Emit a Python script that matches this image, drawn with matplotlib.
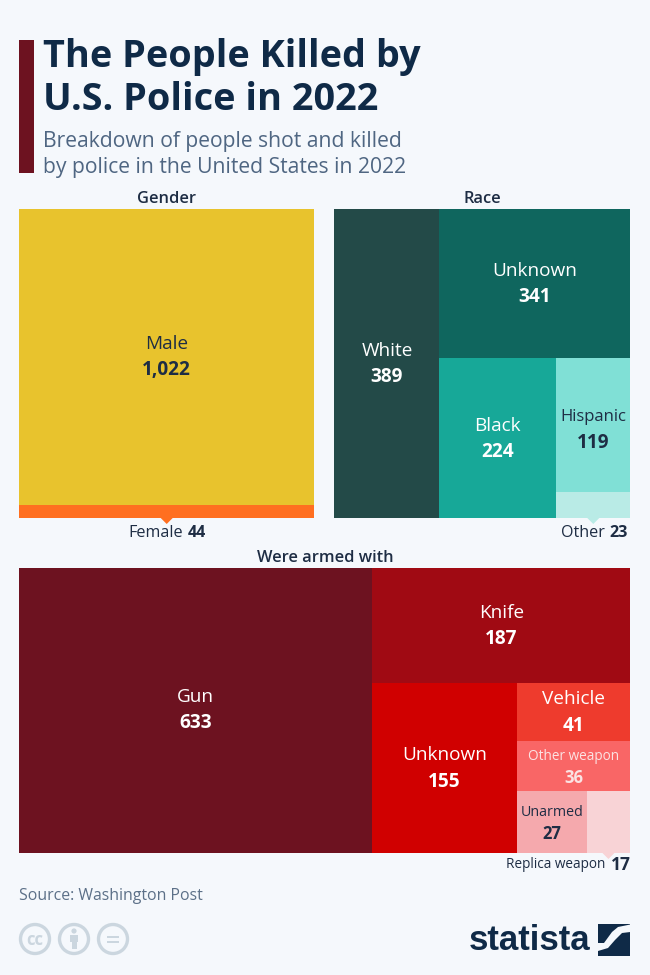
import matplotlib
matplotlib.use("Agg")
import matplotlib.pyplot as plt
from matplotlib import font_manager as fm
from matplotlib.patches import Rectangle, Polygon, Circle

plt.rcParams['font.family'] = ['Open Sans', 'DejaVu Sans']

# ---- data ----
gender_labels = ["Male", "Female"]
gender_values = [1022, 44]
race_labels = ["White", "Unknown", "Black", "Hispanic", "Other"]
race_values = [389, 341, 224, 119, 23]
armed_labels = ["Gun", "Knife", "Unknown", "Vehicle", "Other weapon", "Unarmed", "Replica weapon"]
armed_values = [633, 187, 155, 41, 36, 27, 17]

gender_colors = ["#E8C32D", "#FF6F20"]
race_colors = ["#234A48", "#0F665E", "#17A898", "#80E0D6", "#B9EBE6"]
armed_colors = ["#6D1220", "#A00A13", "#D00000", "#EE3B2D", "#F96666", "#F5A9AD", "#F8D3D6"]

BG = "#F5F8FC"
NAVY = "#0F2A47"
DARK = "#1E2D44"


def sv(v):
    return sum(sv(x) for x in v[1:]) if isinstance(v, list) else v[1]


def layout(node, x0, y0, x1, y1, out):
    """Slice-and-dice: node = ['h'|'v', child, ...]; leaf = (index, value)."""
    if not isinstance(node, list):
        out[node[0]] = (x0, y0, x1, y1)
        return
    total = sv(node)
    pos = x0 if node[0] == 'h' else y0
    for ch in node[1:]:
        if node[0] == 'h':
            nxt = pos + (x1 - x0) * sv(ch) / total
            layout(ch, pos, y0, nxt, y1, out)
        else:
            nxt = pos + (y1 - y0) * sv(ch) / total
            layout(ch, x0, pos, x1, nxt, out)
        pos = nxt


def leaf(values, i):
    return (i, values[i])


fig = plt.figure(figsize=(6.5, 9.75), dpi=100, facecolor=BG)
ax = fig.add_axes([0, 0, 1, 1])
ax.set_xlim(0, 650)
ax.set_ylim(975, 0)
ax.axis('off')


def draw(tree, box, colors):
    rects = {}
    layout(tree, *box, rects)
    for i, (x0, y0, x1, y1) in rects.items():
        ax.add_patch(Rectangle((x0, y0), x1 - x0, y1 - y0, fc=colors[i], ec='none'))
    return rects


def label(rect, name, value, color, size=13.7, up=13, down=13, vsize=None):
    cx, cy = (rect[0] + rect[2]) / 2, (rect[1] + rect[3]) / 2
    ax.text(cx, cy - up, name, color=color, fontsize=size, ha='center', va='center')
    ax.text(cx, cy + down, f"{value:,}", color=color, fontsize=vsize or size,
            fontweight='bold', ha='center', va='center')


def pointer(rect, color, y):
    cx = (rect[0] + rect[2]) / 2
    ax.add_patch(Polygon([(cx - 6, y), (cx + 6, y), (cx, y + 6)], fc=color, ec='none'))


def callout(xr, y, name, value, size=11.6, vsize=None):
    t = ax.text(xr, y, f"{value}", color=DARK, fontsize=vsize or size, fontweight='bold', ha='right', va='center')
    fig.canvas.draw()
    bb = t.get_window_extent()
    ax.text(xr - bb.width - 5, y, name, color=DARK, fontsize=size, ha='right', va='center')


# header
ax.add_patch(Rectangle((19.4, 39.5), 15, 133, fc="#6D1220", ec='none'))
ax.text(43, 57, "The People Killed by", color=NAVY, fontsize=27.3, fontweight='bold', va='center')
ax.text(43, 100, "U.S. Police in 2022", color=NAVY, fontsize=27.3, fontweight='bold', va='center')
ax.text(43, 141, "Breakdown of people shot and killed", color="#4F6682", fontsize=15.2, va='center')
ax.text(43, 168, "by police in the United States in 2022", color="#4F6682", fontsize=15.2, va='center')

# gender
ax.text(167, 199, "Gender", color=DARK, fontsize=11.8, fontweight='semibold', ha='center', va='center')
g = draw(['v', leaf(gender_values, 0), leaf(gender_values, 1)], (19.4, 209, 314, 518), gender_colors)
label(g[0], gender_labels[0], gender_values[0], DARK)
pointer(g[1], gender_colors[1], 518)
callout(206, 533, gender_labels[1], gender_values[1])

# race
ax.text(482.5, 199, "Race", color=DARK, fontsize=11.8, fontweight='semibold', ha='center', va='center')
r = draw(['h', leaf(race_values, 0),
          ['v', leaf(race_values, 1),
           ['h', leaf(race_values, 2),
            ['v', leaf(race_values, 3), leaf(race_values, 4)]]]],
         (334.4, 209, 630.3, 518), race_colors)
label(r[0], race_labels[0], race_values[0], "white", up=12, down=14)
label(r[1], race_labels[1], race_values[1], "white", up=13, down=13)
label(r[2], race_labels[2], race_values[2], "white", up=12, down=14)
label(r[3], race_labels[3], race_values[3], DARK, size=12, up=8, down=18, vsize=13.7)
pointer(r[4], race_colors[4], 518)
callout(628, 533, race_labels[4], race_values[4])

# armed
ax.text(325, 558, "Were armed with", color=DARK, fontsize=11.8, fontweight='semibold', ha='center', va='center')
a = draw(['h', leaf(armed_values, 0),
          ['v', leaf(armed_values, 1),
           ['h', leaf(armed_values, 2),
            ['v', leaf(armed_values, 3), leaf(armed_values, 4),
             ['h', leaf(armed_values, 5), leaf(armed_values, 6)]]]]],
         (19.4, 568, 630.3, 853), armed_colors)
label(a[0], armed_labels[0], armed_values[0], "white")
label(a[1], armed_labels[1], armed_values[1], "white")
label(a[2], armed_labels[2], armed_values[2], "white", up=13, down=14)
label(a[3], armed_labels[3], armed_values[3], "white", up=13, down=14)
label(a[4], armed_labels[4], armed_values[4], "#FBE3E3", size=9.8, up=9, down=12, vsize=12)
label(a[5], armed_labels[5], armed_values[5], DARK, size=10.3, up=10, down=12, vsize=12)
pointer(a[6], armed_colors[6], 853)
callout(630.5, 865, armed_labels[6], armed_values[6], size=9.8, vsize=12.5)

# footer
ax.text(19, 896, "Source: Washington Post", color="#5C7088", fontsize=11.45, va='center')
ICON = "#CBD6DF"
for cx in (35, 74, 113):
    ax.add_patch(Circle((cx, 939), 14.5, fc='none', ec=ICON, lw=2.4))
ax.text(35, 940, "cc", color=ICON, fontsize=12, fontweight='bold', ha='center', va='center')
ax.add_patch(Circle((74, 931), 2.6, fc=ICON, ec='none'))
ax.add_patch(Rectangle((70, 935), 8, 7, fc=ICON, ec='none'))
ax.add_patch(Rectangle((71.5, 942), 5, 7, fc=ICON, ec='none'))
ax.add_patch(Rectangle((107, 935.5), 12, 2.6, fc=ICON, ec='none'))
ax.add_patch(Rectangle((107, 940.5), 12, 2.6, fc=ICON, ec='none'))

installed = {f.name for f in fm.fontManager.ttflist}
logo_family = 'Liberation Sans Narrow' if 'Liberation Sans Narrow' in installed else 'Liberation Sans'
logo = ax.text(590, 941, "statista", color=NAVY, fontsize=29, fontweight='bold',
               family=logo_family, ha='right', va='center')
fig.canvas.draw()
logo.set_fontsize(29 * 122 / logo.get_window_extent().width)
ax.add_patch(Rectangle((598, 924), 32.3, 31.5, fc=NAVY, ec='none'))
ax.add_patch(Polygon([(598, 943), (604, 943), (612, 932), (618, 927), (630.3, 924.5),
                      (630.3, 932), (622, 933), (615, 940), (608, 948), (598, 951)],
                     fc=BG, ec='none'))

fig.savefig("out.png", dpi=100, facecolor=BG)
